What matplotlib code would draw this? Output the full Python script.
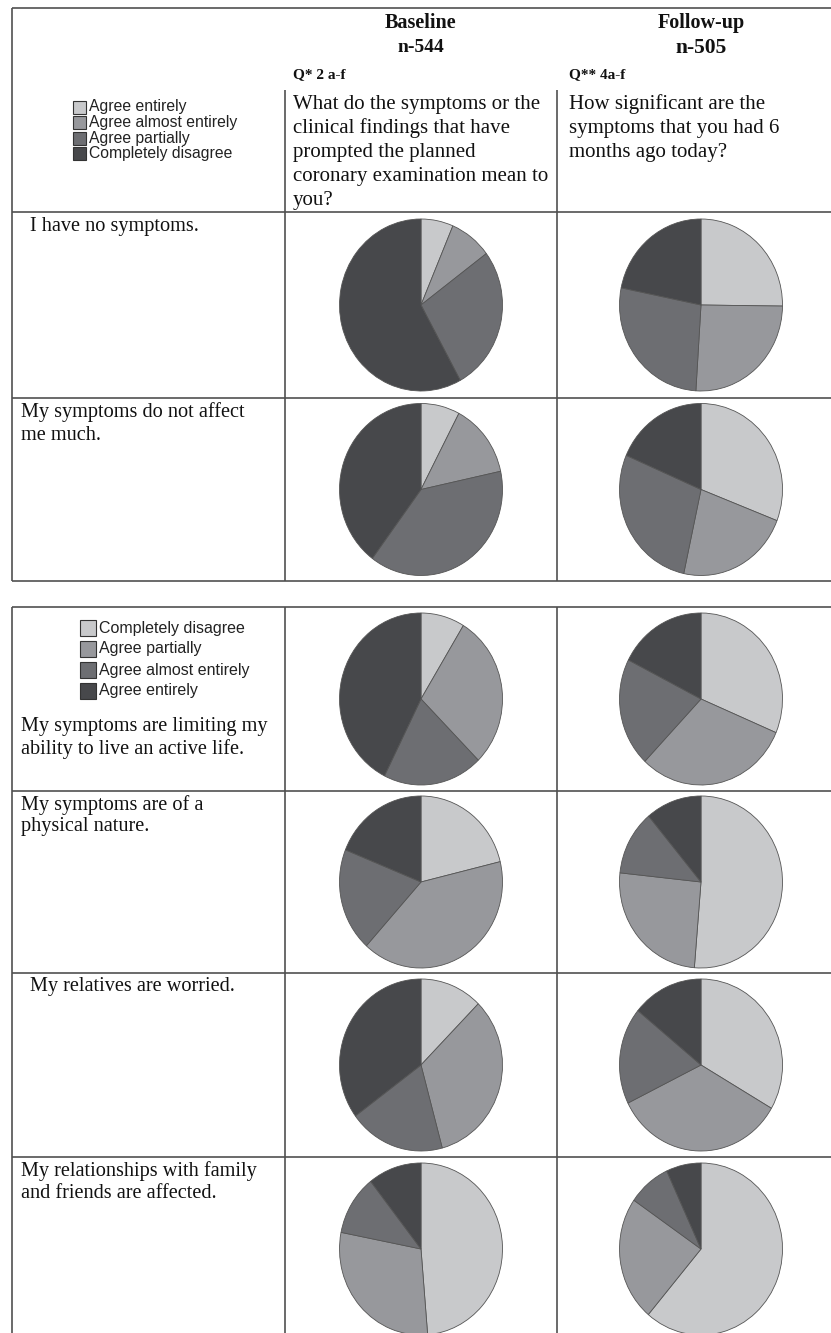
import matplotlib
matplotlib.use("Agg")
import matplotlib.pyplot as plt
from matplotlib.patches import Rectangle

# ---------------- data ----------------
t1_categories = ["Agree entirely", "Agree almost entirely", "Agree partially", "Completely disagree"]
t2_categories = ["Completely disagree", "Agree partially", "Agree almost entirely", "Agree entirely"]

t1_statements = [["I have no symptoms."],
                 ["My symptoms do not affect", "me much."]]
t2_statements = [["My symptoms are limiting my", "ability to live an active life."],
                 ["My symptoms are of a", "physical nature."],
                 ["My relatives are worried."],
                 ["My relationships with family", "and friends are affected."]]

# shares (%) in legend order of each table
t1_baseline = [[6.4, 8.4, 27.2, 58.0],
               [7.7, 13.9, 38.6, 39.8]]
t1_followup = [[25.2, 25.8, 27.2, 21.8],
               [30.9, 22.5, 28.1, 18.5]]
t2_baseline = [[8.7, 28.9, 19.8, 42.6],
               [21.2, 40.5, 19.4, 18.9],
               [12.4, 33.4, 19.1, 35.1],
               [48.7, 29.4, 11.3, 10.6]]
t2_followup = [[31.4, 30.7, 20.4, 17.5],
               [51.3, 25.4, 12.2, 11.1],
               [33.4, 34.3, 18.2, 14.1],
               [61.2, 23.4, 8.5, 6.9]]

col_titles = ["Baseline", "Follow-up"]
col_n = ["n-544", "n-505"]
col_q = ["Q* 2 a-f", "Q** 4a-f"]
col_questions = [["What do the symptoms or the", "clinical findings that have",
                  "prompted the planned", "coronary examination mean to", "you?"],
                 ["How significant are the", "symptoms that you had 6",
                  "months ago today?"]]

shades = ["#c8c9cb", "#97989c", "#6d6e72", "#47484b"]

# ---------------- layout ----------------
W, H = 831, 1333
fig = plt.figure(figsize=(W / 100, H / 100), dpi=100)
bg = fig.add_axes([0, 0, 1, 1])
bg.set_xlim(0, W)
bg.set_ylim(H, 0)
bg.axis("off")

LC = "#505050"
LW = 1.2
serif = "Liberation Serif"
sans = "Liberation Sans"

x_left, x_div1, x_div2, x_right = 12, 285, 557, 831
col_cx = [421, 701]
pie_w, pie_h = 163, 172

def hline(y, x0=x_left, x1=x_right):
    bg.plot([x0, x1], [y, y], color=LC, lw=LW, solid_capstyle="butt")

def vline(x, y0, y1):
    bg.plot([x, x], [y0, y1], color=LC, lw=LW, solid_capstyle="butt")

def draw_pie(cx, cy, values):
    ax = fig.add_axes([(cx - pie_w / 2) / W, 1 - (cy + pie_h / 2) / H, pie_w / W, pie_h / H])
    wedges, _ = ax.pie(values, colors=shades, startangle=90, counterclock=False,
                       wedgeprops=dict(edgecolor="#555555", linewidth=0.6))
    for w in wedges:
        w.set_clip_on(False)
    ax.set_aspect("auto")
    ax.set_xlim(-1, 1)
    ax.set_ylim(-1, 1)
    ax.axis("off")

def legend(x_box, y_first, dy, box, labels, fs):
    for i, lab in enumerate(labels):
        y = y_first + i * dy
        bg.add_patch(Rectangle((x_box, y - box / 2), box, box, facecolor=shades[i],
                               edgecolor="#333333", lw=0.8))
        bg.text(x_box + box + 3, y, lab, family=sans, fontsize=fs, va="center",
                ha="left", color="#222222")

def statement(x, y_top, lines, dy=23):
    for i, ln in enumerate(lines):
        bg.text(x, y_top + i * dy, ln, family=serif, fontsize=14.6, va="center",
                ha="left", color="#111111")

# ---------------- table 1 ----------------
t1_top, t1_head_bot = 8, 212
t1_rows = [212, 398, 581]
hline(t1_top)
hline(t1_head_bot)
hline(t1_rows[1])
hline(t1_rows[2])
vline(x_left, t1_top, t1_rows[2])
vline(x_div1, 90, t1_rows[2])
vline(x_div2, 90, t1_rows[2])

title_sizes = [14.5, 14.5]
n_sizes = [14, 15.5]
qx = [293, 569]
for j in range(2):
    bg.text(col_cx[j], 23, col_titles[j], family=serif, weight="bold", fontsize=title_sizes[j],
            ha="center", va="center", color="#111111")
    bg.text(col_cx[j], 48, col_n[j], family=serif, weight="bold", fontsize=n_sizes[j],
            ha="center", va="center", color="#111111")
    bg.text(qx[j], 75, col_q[j], family=serif, weight="bold", fontsize=11,
            ha="left", va="center", color="#111111")
    for i, ln in enumerate(col_questions[j]):
        bg.text(qx[j], 104 + i * 24.2, ln, family=serif, fontsize=15, ha="left",
                va="center", color="#111111")

legend(73, 107, 15.5, 13, t1_categories, 11.3)

t1_x = [30, 21]
for r in range(2):
    y0, y1 = t1_rows[r], t1_rows[r + 1]
    cy = (y0 + y1) / 2
    statement(t1_x[r], y0 + 14, t1_statements[r])
    draw_pie(col_cx[0], cy, t1_baseline[r])
    draw_pie(col_cx[1], cy, t1_followup[r])

# ---------------- table 2 ----------------
t2_rows = [607, 791, 973, 1157, 1341]
hline(t2_rows[0])
for y in t2_rows[1:4]:
    hline(y)
vline(x_left, t2_rows[0], H)
vline(x_div1, t2_rows[0], H)
vline(x_div2, t2_rows[0], H)

legend(80, 628, 21, 16, t2_categories, 11.5)

t2_x = [21, 21, 30, 21]
t2_text_y = [727, 805, 987, 1171]
for r in range(4):
    y0, y1 = t2_rows[r], t2_rows[r + 1]
    cy = (y0 + y1) / 2
    statement(t2_x[r], t2_text_y[r], t2_statements[r], dy=22)
    draw_pie(col_cx[0], cy, t2_baseline[r])
    draw_pie(col_cx[1], cy, t2_followup[r])

fig.savefig("out.png", dpi=100, facecolor="white")
